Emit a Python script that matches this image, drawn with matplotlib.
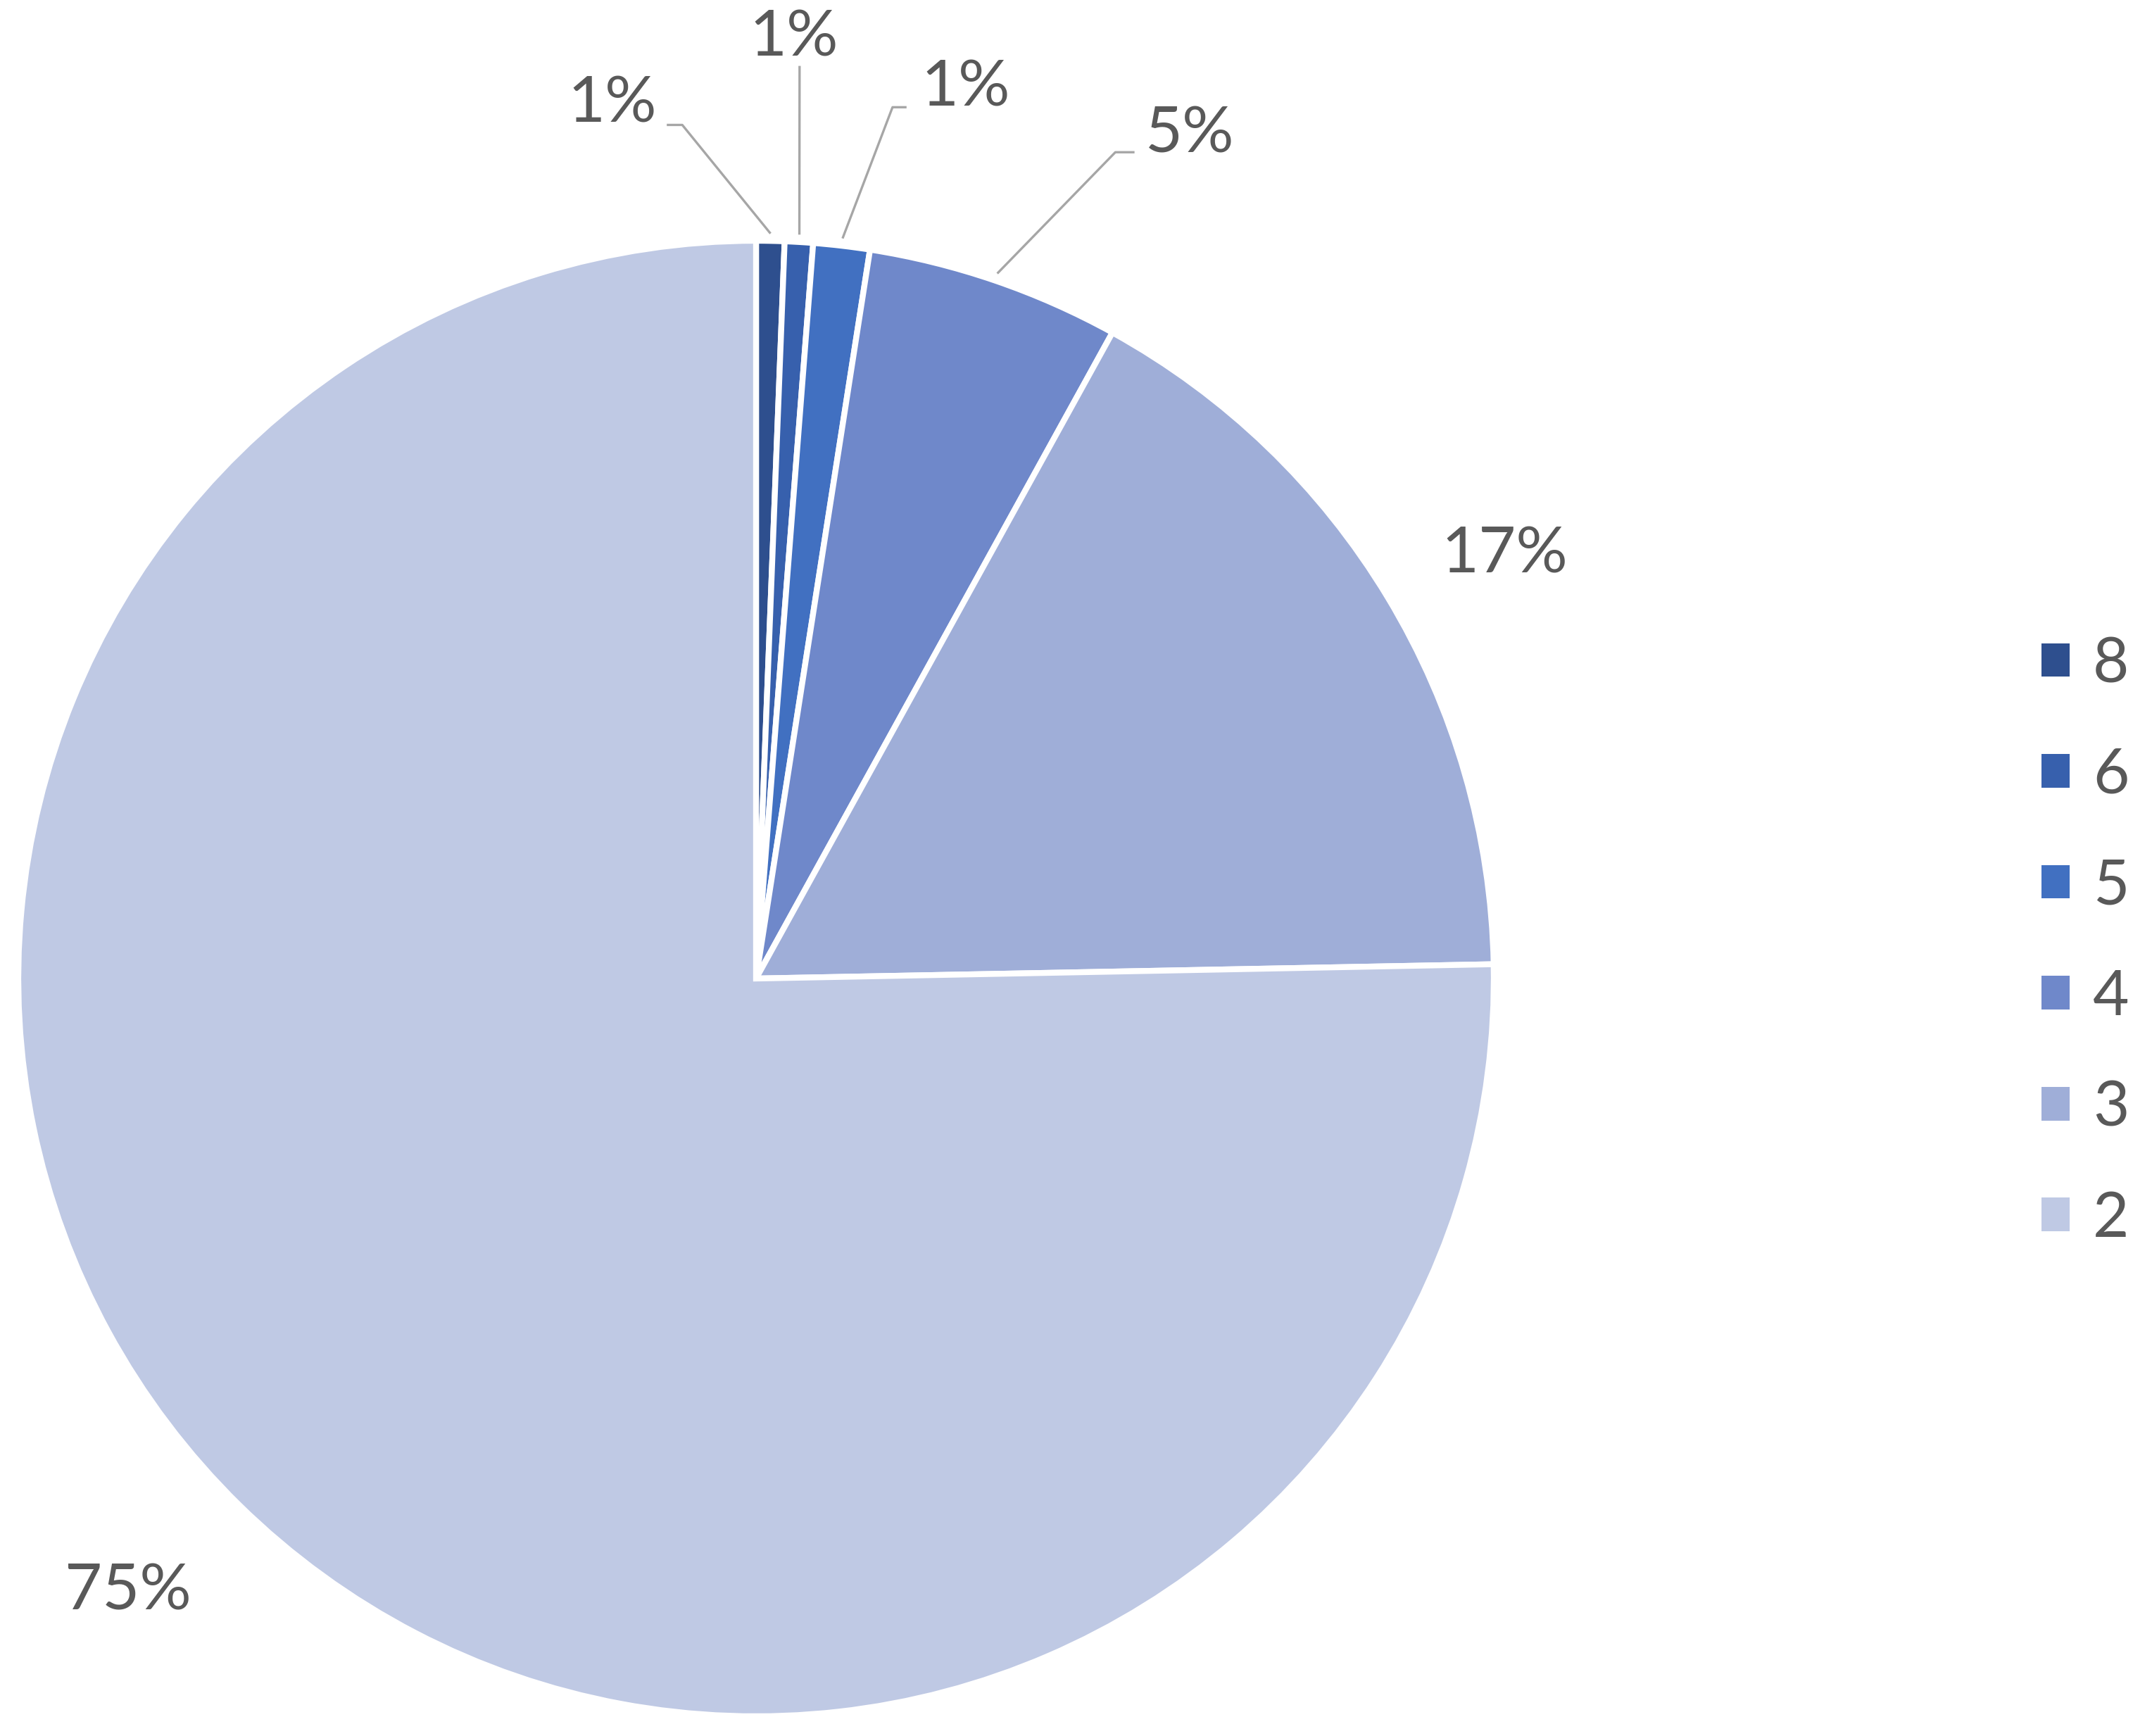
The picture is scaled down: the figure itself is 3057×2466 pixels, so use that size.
import numpy as np
import matplotlib.pyplot as plt
from matplotlib.patches import Patch

plt.rcParams['font.family'] = ['Lato', 'DejaVu Sans']

# dados (sentido horário a partir do topo)
categorias = ['8', '6', '5', '4', '3', '2']
contagens = [1, 1, 2, 9, 27, 122]
rotulos = ['1%', '1%', '1%', '5%', '17%', '75%']
cores = ['#2E4F8E', '#3760AD', '#4170C1', '#6F88CA', '#9FAED8', '#BFC9E4']

cor_texto = '#595959'
cor_linha = '#A6A6A6'

fig = plt.figure(figsize=(30.57, 24.66), dpi=100)

# eixo quadrado centrado em (1074, 1390) px, raio 1048 px
W, H = 3057, 2466
cx, cy, r = 1074, 1390, 1048
ax = fig.add_axes([(cx - r) / W, (H - cy - r) / H, 2 * r / W, 2 * r / H])

wedges, _ = ax.pie(
    contagens,
    colors=cores,
    startangle=90,
    counterclock=False,
    radius=1,
    wedgeprops=dict(edgecolor='white', linewidth=6),
)
ax.set_xlim(-1, 1)
ax.set_ylim(-1, 1)
ax.set_aspect('equal')
ax.axis('off')

# posição dos rótulos e cotovelos das linhas guia (em unidades do raio)
pos_rotulos = [(-0.195, 1.185), (0.051, 1.275), (0.284, 1.207),
               (0.588, 1.144), (1.015, 0.574), (-0.851, -0.831)]
cotovelos = [(-0.100, -0.121, 1.157), (0.059, 0.059, 1.237),
             (0.185, 0.204, 1.181), (0.487, 0.513, 1.120), None, None]

for w, txt, (tx, ty), cot in zip(wedges, rotulos, pos_rotulos, cotovelos):
    if cot is not None:
        ang = np.deg2rad((w.theta1 + w.theta2) / 2)
        x0, y0 = 1.01 * np.cos(ang), 1.01 * np.sin(ang)
        ax.plot([x0, cot[0], cot[1]], [y0, cot[2], cot[2]],
                color=cor_linha, lw=2.4, clip_on=False,
                solid_capstyle='butt')
    ax.text(tx, ty, txt, ha='center', va='center', fontsize=66,
            color=cor_texto, clip_on=False)

# legenda
handles = [Patch(facecolor=c, edgecolor='none') for c in cores]
fig.legend(
    handles, categorias,
    loc='center left',
    bbox_to_anchor=(2900 / W, 1 - 1338 / H),
    frameon=False,
    fontsize=64,
    labelcolor=cor_texto,
    handlelength=0.45,
    handleheight=0.45,
    handletextpad=0.37,
    labelspacing=0.85,
    borderpad=0,
    borderaxespad=0,
)

fig.savefig('out.png', dpi=100, facecolor='white')
